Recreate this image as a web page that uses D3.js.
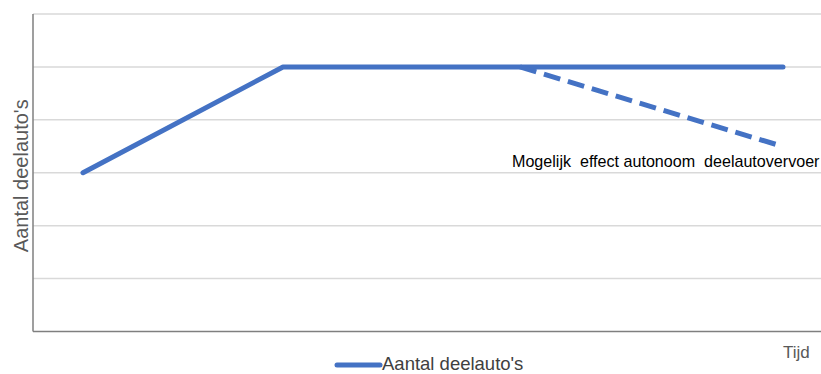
<!DOCTYPE html>
<html>
<head>
<meta charset="utf-8">
<script src="https://cdn.jsdelivr.net/npm/d3@7"></script>
<style>
  html, body { margin: 0; padding: 0; background: #fff; }
  svg { display: block; font-family: "Liberation Sans", Arial, sans-serif; }
</style>
</head>
<body>
<svg id="chart" width="821" height="374"></svg>
<script>
// Time steps (unitless) and number of shared cars (unitless index)
const timeSteps = [0, 2, 7];
const sharedCars = [3, 5, 5];

// Possible effect of autonomous shared transport
const effectTime = [4.37, 6.94];
const effectCars = [5, 3.53];

const gridTicks = [0, 1, 2, 3, 4, 5, 6];

const seriesName = "Aantal deelauto's";
const yTitle = "Aantal deelauto's";
const xTitle = "Tijd";
const effectLabel = "Mogelijk  effect autonoom  deelautovervoer";

const blue = "#4472C4";
const svg = d3.select("#chart");

const x = d3.scaleLinear().domain([-0.5, 7.38]).range([33, 821]);
const y = d3.scaleLinear().domain([0, 6]).range([331.5, 14]);

// Horizontal gridlines
svg.append("g")
  .selectAll("line")
  .data(gridTicks.filter(d => d > 0))
  .join("line")
  .attr("x1", x.range()[0])
  .attr("x2", x.range()[1])
  .attr("y1", d => y(d))
  .attr("y2", d => y(d))
  .attr("stroke", "#d9d9d9")
  .attr("stroke-width", 1.5);

// Axes lines
svg.append("line")
  .attr("x1", x.range()[0]).attr("x2", x.range()[0])
  .attr("y1", y(6)).attr("y2", y(0))
  .attr("stroke", "#7f7f7f").attr("stroke-width", 1.5);
svg.append("line")
  .attr("x1", x.range()[0]).attr("x2", x.range()[1])
  .attr("y1", y(0)).attr("y2", y(0))
  .attr("stroke", "#7f7f7f").attr("stroke-width", 1.5);

const line = d3.line().x(d => x(d[0])).y(d => y(d[1]));

// Main series
svg.append("path")
  .datum(timeSteps.map((t, i) => [t, sharedCars[i]]))
  .attr("d", line)
  .attr("fill", "none")
  .attr("stroke", blue)
  .attr("stroke-width", 5)
  .attr("stroke-linecap", "round")
  .attr("stroke-linejoin", "round");

// Dashed effect line
svg.append("path")
  .datum(effectTime.map((t, i) => [t, effectCars[i]]))
  .attr("d", line)
  .attr("fill", "none")
  .attr("stroke", blue)
  .attr("stroke-width", 5)
  .attr("stroke-dasharray", "17 8");

// Effect annotation
svg.append("text")
  .attr("x", 512)
  .attr("y", 167)
  .attr("font-size", 16.1)
  .attr("fill", "#000")
  .style("white-space", "pre")
  .attr("xml:space", "preserve")
  .text(effectLabel);

// Y axis title
svg.append("text")
  .attr("transform", `translate(28, ${(y(6) + y(0)) / 2 + 3}) rotate(-90)`)
  .attr("text-anchor", "middle")
  .attr("font-size", 20)
  .attr("fill", "#595959")
  .text(yTitle);

// X axis title
svg.append("text")
  .attr("x", 783)
  .attr("y", 358)
  .attr("font-size", 17)
  .attr("fill", "#595959")
  .text(xTitle);

// Legend
const legend = svg.append("g");
legend.append("line")
  .attr("x1", 337).attr("x2", 380)
  .attr("y1", 365).attr("y2", 365)
  .attr("stroke", blue)
  .attr("stroke-width", 5)
  .attr("stroke-linecap", "round");
legend.append("text")
  .attr("x", 382)
  .attr("y", 370)
  .attr("font-size", 18.5)
  .attr("fill", "#404040")
  .text(seriesName);
</script>
</body>
</html>
